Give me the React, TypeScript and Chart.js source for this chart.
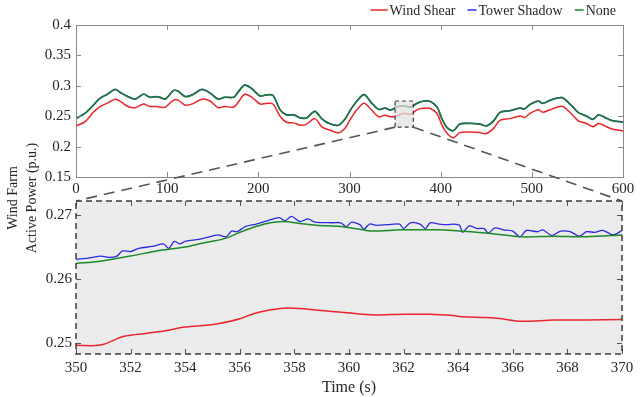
import React, { useEffect, useRef } from "react";
import { Chart, registerables } from "chart.js";

Chart.register(...registerables);

// ---------- data ----------
const seriesNames = ["Wind Shear", "Tower Shadow", "None"];
const seriesColors = ["#e8262b", "#2a2ae0", "#1d8a2a"];

const topTime = [0, 10, 19, 26, 35, 43, 50, 57, 65, 74, 81, 87, 92, 98, 107, 112, 120, 129, 138, 147, 156, 163, 173, 178, 185, 193, 202, 209, 216, 224, 231, 239, 246, 253, 262, 270, 279, 288, 295, 301, 308, 316, 324, 332, 339, 345, 352, 359, 367, 374, 381, 388, 396, 401, 407, 414, 421, 432, 443, 450, 458, 465, 476, 487, 492, 498, 507, 512, 520, 533, 542, 551, 560, 567, 573, 580, 587, 600];
const topWindShear = [0.234, 0.241, 0.2565, 0.2655, 0.272, 0.278, 0.273, 0.266, 0.264, 0.270, 0.266, 0.266, 0.265, 0.265, 0.2765, 0.2765, 0.268, 0.271, 0.278, 0.275, 0.264, 0.266, 0.265, 0.273, 0.286, 0.281, 0.270, 0.271, 0.270, 0.2495, 0.240, 0.239, 0.235, 0.237, 0.246, 0.232, 0.227, 0.2225, 0.230, 0.245, 0.2605, 0.2715, 0.2605, 0.249, 0.2515, 0.249, 0.2503, 0.2545, 0.2535, 0.2605, 0.263, 0.263, 0.2545, 0.2365, 0.222, 0.2145, 0.223, 0.224, 0.223, 0.2215, 0.230, 0.243, 0.246, 0.2505, 0.248, 0.2545, 0.2605, 0.2565, 0.2605, 0.2665, 0.256, 0.2425, 0.238, 0.2325, 0.238, 0.234, 0.2295, 0.2258];
const topTowerShadow = [0.2463, 0.255, 0.2683, 0.2793, 0.2868, 0.2943, 0.2878, 0.2823, 0.2783, 0.2863, 0.2813, 0.2823, 0.2813, 0.2783, 0.2923, 0.2913, 0.2823, 0.2863, 0.2943, 0.2883, 0.2783, 0.2813, 0.2813, 0.2903, 0.3013, 0.2953, 0.2833, 0.2853, 0.2843, 0.2603, 0.2523, 0.2523, 0.2473, 0.2473, 0.2583, 0.2453, 0.2373, 0.2353, 0.2453, 0.2603, 0.2748, 0.2858, 0.2723, 0.2613, 0.2633, 0.2603, 0.2653, 0.2673, 0.2653, 0.2713, 0.2748, 0.2748, 0.2653, 0.2473, 0.2313, 0.2263, 0.2373, 0.2383, 0.2373, 0.2343, 0.2423, 0.2563, 0.2593, 0.2633, 0.2623, 0.2693, 0.2748, 0.2713, 0.2763, 0.2808, 0.2698, 0.2561, 0.2503, 0.2448, 0.2523, 0.2483, 0.2433, 0.2403];
const topNone = [0.246, 0.2547, 0.268, 0.279, 0.2865, 0.294, 0.2875, 0.282, 0.278, 0.286, 0.281, 0.282, 0.281, 0.278, 0.292, 0.291, 0.282, 0.286, 0.294, 0.288, 0.278, 0.281, 0.281, 0.290, 0.301, 0.295, 0.283, 0.285, 0.284, 0.260, 0.252, 0.252, 0.247, 0.247, 0.258, 0.245, 0.237, 0.235, 0.245, 0.260, 0.2745, 0.2855, 0.272, 0.261, 0.263, 0.260, 0.265, 0.267, 0.265, 0.271, 0.2745, 0.2745, 0.265, 0.247, 0.231, 0.226, 0.237, 0.238, 0.237, 0.234, 0.242, 0.256, 0.259, 0.263, 0.262, 0.269, 0.2745, 0.271, 0.276, 0.2805, 0.2695, 0.2558, 0.250, 0.2445, 0.252, 0.248, 0.243, 0.240];

const zoomWindShearTime = [350, 350.9, 351.7, 352.1, 353.1, 354.0, 354.8, 355.3, 356.0, 356.5, 357.0, 357.7, 358.5, 359.5, 360.5, 361.0, 362.0, 363.0, 363.8, 364.2, 365.0, 365.6, 366.3, 367.5, 368.7, 370];
const zoomWindShear = [0.24965, 0.2497, 0.251, 0.2513, 0.2518, 0.2525, 0.2528, 0.2531, 0.2538, 0.2546, 0.2551, 0.2555, 0.2553, 0.2549, 0.2545, 0.2544, 0.2545, 0.2545, 0.2543, 0.2541, 0.254, 0.2538, 0.2534, 0.2536, 0.2536, 0.2537];

const zoomTowerShadowTime = [350.0, 350.5, 350.9, 351.2, 351.5, 351.7, 352.0, 352.3, 352.8, 353.2, 353.4, 353.6, 353.8, 354.0, 354.5, 354.8, 355.2, 355.5, 355.7, 355.9, 356.2, 356.6, 357.0, 357.45, 357.65, 357.9, 358.2, 358.5, 358.75, 359.4, 359.7, 359.9, 360.1, 360.4, 360.55, 360.75, 361.0, 361.4, 361.85, 362.0, 362.25, 362.6, 362.8, 362.97, 363.3, 363.6, 363.85, 364.05, 364.16, 364.4, 364.7, 364.95, 365.1, 365.35, 365.65, 366.0, 366.26, 366.5, 366.9, 367.1, 367.43, 367.75, 368.1, 368.44, 368.7, 369.0, 369.3, 369.68, 370.0];
const zoomTowerShadow = [0.2631, 0.2633, 0.2636, 0.2634, 0.2636, 0.2644, 0.2643, 0.2648, 0.2651, 0.2655, 0.2648, 0.2659, 0.2655, 0.2659, 0.2662, 0.2665, 0.2669, 0.2666, 0.2675, 0.2674, 0.2682, 0.2686, 0.2691, 0.2696, 0.2691, 0.2698, 0.269, 0.2694, 0.2689, 0.2688, 0.2688, 0.2682, 0.2689, 0.2685, 0.2678, 0.2686, 0.2684, 0.2685, 0.2686, 0.2679, 0.2688, 0.2686, 0.2679, 0.2688, 0.2686, 0.2685, 0.2686, 0.2684, 0.2673, 0.2683, 0.2679, 0.2679, 0.2672, 0.268, 0.2677, 0.2675, 0.2666, 0.2676, 0.2674, 0.2677, 0.2668, 0.2675, 0.2674, 0.2667, 0.2674, 0.2673, 0.2676, 0.2669, 0.2676];

const zoomNoneTime = [350, 350.9, 352.0, 353.1, 354.0, 354.5, 355.0, 355.5, 356.0, 356.5, 357.0, 357.6, 358.2, 358.8, 359.7, 360.5, 360.9, 361.9, 363.3, 363.8, 365.0, 366.3, 367.5, 368.7, 370];
const zoomNone = [0.26245, 0.2628, 0.2636, 0.2645, 0.265, 0.2655, 0.2659, 0.2664, 0.2673, 0.2681, 0.2687, 0.269, 0.2687, 0.2684, 0.2682, 0.2677, 0.2675, 0.2677, 0.2677, 0.2676, 0.2672, 0.2666, 0.2667, 0.2666, 0.2669];

const topXTicks = [0, 100, 200, 300, 400, 500, 600];
const topYTicks = [0.15, 0.2, 0.25, 0.3, 0.35, 0.4];
const zoomXTicks = [350, 352, 354, 356, 358, 360, 362, 364, 366, 368, 370];
const zoomYTicks = [0.25, 0.26, 0.27];
const topYRange = [0.15, 0.4];
const zoomYRange = [0.2483, 0.2722];
const zoomWindow = [350, 370];
const zoomBoxY = [0.232, 0.275];

const yTitleLines = ["Wind Farm", "Active Power (p.u.)"];
const xTitle = "Time (s)";

// ---------- styling ----------
const FONT = "'Liberation Serif', 'Times New Roman', serif";
const TEXT = "#262626";
const W = 642;
const H = 397;

const pts = (xs: number[], ys: number[]) => xs.map((x, i) => ({ x, y: ys[i] }));
const fmt = (v: number) => String(Number(v.toFixed(3)));

function drawInwardTicks(chart: any, color: string, len: number) {
  const { ctx, chartArea, scales } = chart;
  const { left, right, top, bottom } = chartArea;
  ctx.save();
  ctx.strokeStyle = color;
  ctx.lineWidth = 1;
  ctx.setLineDash([]);
  ctx.beginPath();
  scales.x.ticks.forEach((t: any) => {
    const px = Math.round(scales.x.getPixelForValue(t.value)) + 0.5;
    ctx.moveTo(px, bottom);
    ctx.lineTo(px, bottom - len);
    ctx.moveTo(px, top);
    ctx.lineTo(px, top + len);
  });
  scales.y.ticks.forEach((t: any) => {
    const py = Math.round(scales.y.getPixelForValue(t.value)) + 0.5;
    ctx.moveTo(left, py);
    ctx.lineTo(left + len, py);
    ctx.moveTo(right, py);
    ctx.lineTo(right - len, py);
  });
  ctx.stroke();
  ctx.restore();
}

export default function App() {
  const topRef = useRef<HTMLCanvasElement | null>(null);
  const botRef = useRef<HTMLCanvasElement | null>(null);

  useEffect(() => {
    document.body.style.margin = "0";
    document.body.style.overflow = "hidden";
    if (!topRef.current || !botRef.current) return;

    // lower `order` is drawn on top: None over Tower Shadow over Wind Shear
    const lineDs = (label: string, color: string, data: any[], order: number, width = 1.5) => ({
      label,
      data,
      order,
      borderColor: color,
      backgroundColor: color,
      borderWidth: width,
      pointRadius: 0,
      tension: 0.3,
      fill: false,
    });

    const tickFont = { family: FONT, size: 15 };

    // ---------- bottom (zoom) chart ----------
    const bottomPlugin = {
      id: "zoomPanel",
      beforeDatasetsDraw(chart: any) {
        const { ctx, chartArea: a } = chart;
        ctx.save();
        ctx.fillStyle = "#ebebeb";
        ctx.fillRect(a.left, a.top, a.right - a.left, a.bottom - a.top);
        ctx.restore();
      },
      afterDraw(chart: any) {
        const { ctx, chartArea: a } = chart;
        drawInwardTicks(chart, "#555", 5);
        ctx.save();
        ctx.strokeStyle = "#3c3c3c";
        ctx.lineWidth = 1.5;
        ctx.setLineDash([6, 4]);
        ctx.strokeRect(a.left, a.top, a.right - a.left, a.bottom - a.top);
        ctx.restore();
      },
    };

    const bottom = new Chart(botRef.current, {
      type: "line",
      data: {
        datasets: [
          lineDs(seriesNames[0], seriesColors[0], pts(zoomWindShearTime, zoomWindShear), 2),
          lineDs(seriesNames[1], seriesColors[1], pts(zoomTowerShadowTime, zoomTowerShadow), 1, 1.3),
          lineDs(seriesNames[2], seriesColors[2], pts(zoomNoneTime, zoomNone), 0),
        ],
      },
      options: {
        responsive: false,
        animation: false,
        layout: { padding: { top: 201, left: 0, right: 20, bottom: 0 } },
        plugins: { legend: { display: false }, tooltip: { enabled: false } },
        scales: {
          x: {
            type: "linear",
            min: zoomWindow[0],
            max: zoomWindow[1],
            afterBuildTicks: (s: any) => {
              s.ticks = zoomXTicks.map((v) => ({ value: v }));
            },
            afterFit: (s: any) => {
              s.height = 43;
            },
            grid: { display: false, drawTicks: false },
            border: { display: false },
            ticks: { font: tickFont, color: TEXT, padding: 5, maxRotation: 0, autoSkip: false, callback: (v: any) => fmt(v) },
            title: { display: true, text: xTitle, font: { family: FONT, size: 16 }, color: TEXT, padding: { top: 0, bottom: 0 } },
          },
          y: {
            type: "linear",
            min: zoomYRange[0],
            max: zoomYRange[1],
            afterBuildTicks: (s: any) => {
              s.ticks = zoomYTicks.map((v) => ({ value: v }));
            },
            afterFit: (s: any) => {
              s.width = 76;
            },
            grid: { display: false, drawTicks: false },
            border: { display: false },
            ticks: { font: tickFont, color: TEXT, padding: 4, callback: (v: any) => fmt(v) },
          },
        },
      },
      plugins: [bottomPlugin],
    } as any);

    // ---------- top (overview) chart ----------
    const topPlugin = {
      id: "overview",
      afterDatasetsDraw(chart: any) {
        const { ctx, scales } = chart;
        const x0 = scales.x.getPixelForValue(zoomWindow[0]);
        const x1 = scales.x.getPixelForValue(zoomWindow[1]);
        const y0 = scales.y.getPixelForValue(zoomBoxY[1]);
        const y1 = scales.y.getPixelForValue(zoomBoxY[0]);
        ctx.save();
        ctx.fillStyle = "rgba(226,226,226,0.75)";
        ctx.fillRect(x0, y0, x1 - x0, y1 - y0);
        ctx.strokeStyle = "#3c3c3c";
        ctx.lineWidth = 1.2;
        ctx.setLineDash([4, 3]);
        ctx.strokeRect(x0, y0, x1 - x0, y1 - y0);
        ctx.restore();
      },
      afterDraw(chart: any) {
        const { ctx, chartArea: a, scales } = chart;
        // axes box
        ctx.save();
        ctx.strokeStyle = "#8a8a8a";
        ctx.lineWidth = 1;
        ctx.strokeRect(a.left + 0.5, a.top + 0.5, a.right - a.left, a.bottom - a.top);
        ctx.restore();
        drawInwardTicks(chart, "#8a8a8a", 5);

        // connectors to zoom panel
        const b = bottom.chartArea;
        const x0 = scales.x.getPixelForValue(zoomWindow[0]);
        const x1 = scales.x.getPixelForValue(zoomWindow[1]);
        const yb = scales.y.getPixelForValue(zoomBoxY[0]);
        ctx.save();
        ctx.strokeStyle = "#555";
        ctx.lineWidth = 1.6;
        ctx.setLineDash([11, 7]);
        ctx.beginPath();
        ctx.moveTo(x0, yb);
        ctx.lineTo(b.left, b.top);
        ctx.moveTo(x1, yb);
        ctx.lineTo(b.right, b.top);
        ctx.stroke();
        ctx.restore();

        // legend
        const lens = [17, 9, 9];
        ctx.save();
        ctx.font = `14px ${FONT}`;
        ctx.textBaseline = "middle";
        const widths = chart.data.datasets.map((d: any) => ctx.measureText(d.label).width);
        let total = 0;
        widths.forEach((w: number, i: number) => {
          total += lens[i] + 2 + w + (i < widths.length - 1 ? 12 : 0);
        });
        let cx = 616 - total;
        const ly = 10;
        chart.data.datasets.forEach((d: any, i: number) => {
          ctx.strokeStyle = seriesColors[i];
          ctx.lineWidth = 1.5;
          ctx.beginPath();
          ctx.moveTo(cx, ly);
          ctx.lineTo(cx + lens[i], ly);
          ctx.stroke();
          cx += lens[i] + 2;
          ctx.fillStyle = TEXT;
          ctx.fillText(d.label, cx, ly + 1);
          cx += widths[i] + 12;
        });
        ctx.restore();

        // shared y-axis title
        ctx.save();
        ctx.font = `14px ${FONT}`;
        ctx.fillStyle = TEXT;
        ctx.textAlign = "center";
        ctx.textBaseline = "middle";
        const cy = 198;
        [13, 32].forEach((x, i) => {
          ctx.save();
          ctx.translate(x, cy);
          ctx.rotate(-Math.PI / 2);
          ctx.fillText(yTitleLines[i], 0, 0);
          ctx.restore();
        });
        ctx.restore();
      },
    };

    const top = new Chart(topRef.current, {
      type: "line",
      data: {
        datasets: [
          lineDs(seriesNames[0], seriesColors[0], pts(topTime, topWindShear), 2),
          lineDs(seriesNames[1], seriesColors[1], pts(topTime, topTowerShadow), 1),
          lineDs(seriesNames[2], "#1e7a32", pts(topTime, topNone), 0, 1.6),
        ],
      },
      options: {
        responsive: false,
        animation: false,
        layout: { padding: { top: 25, left: 0, right: 19, bottom: 200 } },
        plugins: { legend: { display: false }, tooltip: { enabled: false } },
        scales: {
          x: {
            type: "linear",
            min: 0,
            max: 600,
            afterBuildTicks: (s: any) => {
              s.ticks = topXTicks.map((v) => ({ value: v }));
            },
            afterFit: (s: any) => {
              s.height = 20;
            },
            grid: { display: false, drawTicks: false },
            border: { display: false },
            ticks: { font: tickFont, color: TEXT, padding: 3, maxRotation: 0, autoSkip: false, callback: (v: any) => fmt(v) },
          },
          y: {
            type: "linear",
            min: topYRange[0],
            max: topYRange[1],
            afterBuildTicks: (s: any) => {
              s.ticks = topYTicks.map((v) => ({ value: v }));
            },
            afterFit: (s: any) => {
              s.width = 76;
            },
            grid: { display: false, drawTicks: false },
            border: { display: false },
            ticks: { font: tickFont, color: TEXT, padding: 5, callback: (v: any) => fmt(v) },
          },
        },
      },
      plugins: [topPlugin],
    } as any);

    return () => {
      top.destroy();
      bottom.destroy();
    };
  }, []);

  return (
    <div style={{ position: "relative", width: W, height: H, background: "#fff", overflow: "hidden" }}>
      <canvas ref={topRef} width={W} height={H} style={{ position: "absolute", left: 0, top: 0 }} />
      <canvas ref={botRef} width={W} height={H} style={{ position: "absolute", left: 0, top: 0 }} />
    </div>
  );
}
